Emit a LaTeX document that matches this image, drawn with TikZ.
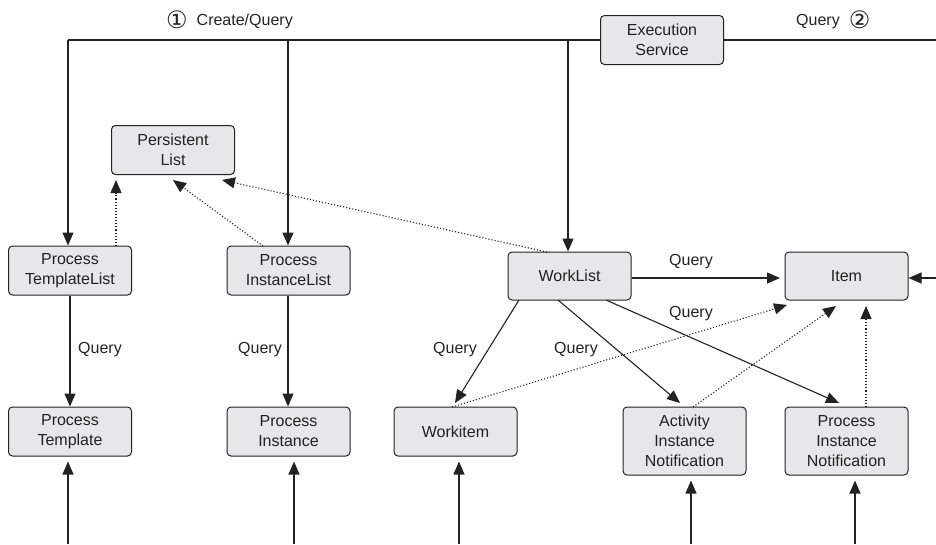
\documentclass[tikz,border=0pt]{standalone}
\usepackage{fontspec}
\setmainfont{Liberation Sans}
\newfontfamily\dejavu{DejaVu Sans}
\usetikzlibrary{arrows.meta,calc}
\definecolor{boxfill}{HTML}{E6E7E9}
\definecolor{ink}{HTML}{222222}
\newcommand{\circdig}[1]{{\dejavu\fontsize{24}{20}\selectfont\raisebox{-2.5pt}{#1}}}
\begin{document}
\begin{tikzpicture}[x=1pt,y=-1pt,
  box/.style={draw=ink,fill=boxfill,rounded corners=4pt,line width=1pt,minimum width=123pt,minimum height=49pt,align=center,inner sep=0pt,text=ink,font=\fontsize{16}{20}\selectfont},
  tall/.style={box,minimum height=68pt},
  lbl/.style={text=ink,font=\fontsize{16}{20}\selectfont,inner sep=0pt},
  arr/.style={draw=ink,line width=1.1pt,-{Triangle[length=13pt,width=11pt]}},
  ln/.style={draw=ink,line width=1.1pt},
  dot/.style={draw=ink,line width=1.1pt,dotted,-{Triangle[length=13pt,width=11pt]}}]
\useasboundingbox (0,0) rectangle (936,544);
% nodes
\node[box] (exec) at (662,40) {Execution\\Service};
\node[box] (plist) at (173,150) {Persistent\\List};
\node[box] (ptl) at (70,270.5) {Process\\TemplateList};
\node[box] (pil) at (288.5,270.5) {Process\\InstanceList};
\node[box,minimum height=48pt] (wl) at (569.5,276) {WorkList\\[-20pt]\phantom{X}};
\node[box,minimum height=48pt] (item) at (846.5,276) {Item\\[-20pt]\phantom{X}};
\node[box] (pt) at (70,431.5) {Process\\Template};
\node[box] (pi) at (288.5,431.5) {Process\\Instance};
\node[box] (wi) at (455.5,431.5) {Workitem};
\node[tall] (ain) at (684.5,441) {Activity\\Instance\\Notification};
\node[tall] (pin) at (846.5,441) {Process\\Instance\\Notification};
% top labels
\node[lbl,anchor=west] (l1) at (166,20) {\circdig{①}\hspace{9pt}Create/Query};
\node[lbl,anchor=west] (l2) at (796,20) {Query\hspace{9pt}\circdig{②}};
% top bus
\coordinate (c1) at (68,40);
\coordinate (c2) at (288,40);
\coordinate (c3) at (568,40);
\coordinate (cr) at (936,40);
\draw[ln] (exec.west |- c1) -- (c1);
\draw[ln] (exec.east |- cr) -- (cr);
\draw[arr] (c1) -- (c1 |- ptl.north);
\draw[arr] (c2) -- (c2 |- pil.north);
\draw[arr] (c3) -- (c3 |- wl.north);
% right input to Item
\coordinate (ir) at (936,278);
\draw[arr] (ir) -- (item.east |- ir);
% query vertical
\coordinate (v1) at (70,0);
\coordinate (v2) at (288,0);
\draw[arr] (v1 |- ptl.south) -- (v1 |- pt.north);
\draw[arr] (v2 |- pil.south) -- (v2 |- pi.north);
\node[lbl,anchor=west] (q1) at (78,350) {Query};
\node[lbl,anchor=east] (q2) at (282,350) {Query};
% worklist arrows
\coordinate (w1) at (519,300);
\coordinate (w2) at (558,300);
\coordinate (w3) at (606,300);
\coordinate (t1) at (455,403);
\coordinate (t2) at (680,403);
\coordinate (t3) at (839,403);
\coordinate (t0) at (780,278);
\draw[arr] (wl.east |- t0) -- (t0);
\draw[arr] (w1) -- (t1);
\draw[arr] (w2) -- (t2);
\draw[arr] (w3) -- (t3);
\node[lbl] (q3) at (691,262) {Query};
\node[lbl] (q4) at (691,314) {Query};
\node[lbl] (q5) at (455,350) {Query};
\node[lbl] (q6) at (576,350) {Query};
% dotted to Persistent List
\coordinate (d1s) at (116,246);
\coordinate (d1e) at (116,180);
\coordinate (d2s) at (263,246);
\coordinate (d2e) at (173,180);
\coordinate (d3s) at (547,252);
\coordinate (d3e) at (222,180);
\draw[dot] (d1s) -- (d1e);
\draw[dot] (d2s) -- (d2e);
\draw[dot] (d3s) -- (d3e);
% dotted to Item
\coordinate (e1s) at (452,407);
\coordinate (e1e) at (787,305);
\coordinate (e2s) at (693,407);
\coordinate (e2e) at (836,306);
\coordinate (e3s) at (866,407);
\coordinate (e3e) at (866,306);
\draw[dot] (e1s) -- (e1e);
\draw[dot] (e2s) -- (e2e);
\draw[dot] (e3s) -- (e3e);
% bottom inputs
\coordinate (b1) at (68,544);
\coordinate (b2) at (294,544);
\coordinate (b3) at (459,544);
\coordinate (b4) at (691,544);
\coordinate (b5) at (855,544);
\draw[arr,shorten >=5pt] (b1) -- (b1 |- pt.south);
\draw[arr,shorten >=5pt] (b2) -- (b2 |- pi.south);
\draw[arr,shorten >=5pt] (b3) -- (b3 |- wi.south);
\draw[arr,shorten >=5pt] (b4) -- (b4 |- ain.south);
\draw[arr,shorten >=5pt] (b5) -- (b5 |- pin.south);
\end{tikzpicture}
\end{document}
